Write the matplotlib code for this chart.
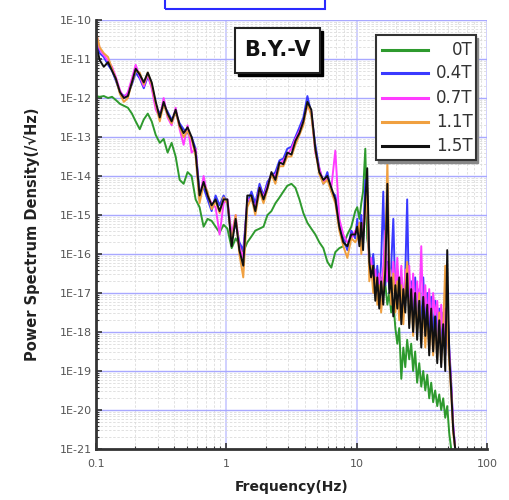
import numpy as np
import matplotlib
matplotlib.use('Agg')
import matplotlib.pyplot as plt
from matplotlib.patches import Rectangle
from matplotlib.lines import Line2D
from matplotlib.ticker import FuncFormatter, FixedLocator, NullFormatter

# frequency grid (Hz)
freq = [0.100, 0.107, 0.115, 0.124, 0.133, 0.142, 0.153, 0.164, 0.176, 0.189,
        0.202, 0.217, 0.233, 0.250, 0.268, 0.288, 0.309, 0.331, 0.355, 0.381,
        0.409, 0.439, 0.471, 0.505, 0.542, 0.582, 0.624, 0.670, 0.719, 0.772,
        0.828, 0.889, 0.954, 1.02, 1.10, 1.18, 1.26, 1.35, 1.45, 1.56,
        1.67, 1.80, 1.93, 2.07, 2.22, 2.38, 2.56, 2.74, 2.94, 3.16,
        3.39, 3.64, 3.90, 4.19, 4.49, 4.82, 5.17, 5.55, 5.96, 6.39,
        6.86, 7.36, 7.90, 8.48, 9.10, 9.76,
        10.1, 10.5, 10.85, 11.2, 11.65, 12.05, 12.5, 12.9, 13.4, 13.9,
        14.4, 14.9, 15.4, 16.0, 16.6, 17.2, 17.8, 18.4, 19.1, 19.8,
        20.5, 21.2, 22.0, 22.8, 23.6, 24.4, 25.3, 26.2, 27.1, 28.1,
        29.1, 30.2, 31.3, 32.4, 33.6, 34.8, 36.0, 37.3, 38.6, 40.0,
        41.5, 43.0, 44.5, 46.1, 47.8, 49.5, 51.3, 53.1, 55.0, 57.0]

# log10 of power spectrum density
psd_0T = [-11.95, -11.97, -11.95, -12.0, -11.97, -12.05, -12.15, -12.2, -12.25, -12.4,
          -12.6, -12.8, -12.55, -12.4, -12.6, -12.95, -13.15, -13.05, -13.4, -13.15,
          -13.5, -14.1, -14.2, -13.9, -14.0, -14.6, -14.8, -15.3, -15.1, -15.15,
          -15.3, -15.45, -15.25, -15.35, -15.85, -15.6, -15.75, -15.95, -15.7, -15.55,
          -15.4, -15.35, -15.3, -15.0, -14.9, -14.7, -14.55, -14.4, -14.25, -14.2,
          -14.3, -14.6, -14.95, -15.2, -15.35, -15.5, -15.7, -15.85, -16.2, -16.35,
          -15.95, -15.85, -15.8, -15.5, -15.3, -14.9,
          -14.8, -15.1, -14.7, -14.4, -13.3, -15.6, -16.0, -16.5, -16.1, -16.7,
          -16.4, -16.9, -16.6, -17.0, -16.8, -17.3, -17.0, -17.5, -17.2, -17.9,
          -18.3, -17.9, -19.2, -18.4, -18.9, -18.2, -18.7, -18.3, -19.0, -18.5,
          -19.3, -18.8, -19.4, -19.0, -19.5, -19.1, -19.7, -19.3, -19.8, -19.5,
          -19.9, -19.6, -20.0, -19.7, -20.2, -19.9, -20.6, -21.0, -21.2, -21.3]

psd_04T = [-10.5, -10.85, -10.95, -11.15, -11.3, -11.55, -11.85, -11.95, -11.9, -11.65,
           -11.35, -11.5, -11.75, -11.45, -11.7, -12.2, -12.4, -12.2, -12.35, -12.55,
           -12.4, -12.65, -12.8, -12.9, -13.0, -13.3, -14.4, -14.3, -14.6, -14.9,
           -14.5, -14.75, -14.5, -14.7, -15.6, -15.2, -15.7, -15.9, -14.7, -14.4,
           -14.7, -14.2, -14.5, -14.15, -14.0, -13.9, -13.6, -13.55, -13.3, -13.25,
           -13.0, -12.75, -12.5, -11.95, -12.4, -13.2, -13.8, -14.2, -13.9, -14.4,
           -14.5, -15.2, -15.6, -15.9, -15.4, -15.6,
           -15.1, -15.6, -15.0, -15.7, -14.1, -14.5, -16.0, -16.4, -16.0, -17.0,
           -16.3, -17.1, -16.2, -14.4, -16.8, -16.2, -16.9, -16.3, -15.1, -17.1,
           -16.4, -17.3, -16.6, -17.6, -16.5, -14.6, -17.5, -16.7, -17.7, -16.6,
           -17.8, -16.9, -17.9, -16.6, -17.9, -17.0, -18.2, -17.1, -18.1, -17.2,
           -18.3, -17.4, -18.4, -17.5, -18.6, -17.3, -18.4, -19.3, -20.4, -21.0]

psd_07T = [-10.3, -10.75, -10.9, -11.05, -11.2, -11.45, -11.8, -12.0, -11.85, -11.5,
           -11.15, -11.45, -11.7, -11.4, -11.75, -12.3, -12.5, -12.0, -12.5, -12.7,
           -12.25, -12.8, -13.2, -12.7, -13.4, -13.3, -14.6, -14.0, -14.5, -14.7,
           -14.8, -15.5, -14.7, -14.6, -15.5, -15.0, -15.8, -16.1, -14.6, -14.6,
           -14.8, -14.3, -14.55, -14.25, -13.95, -14.0, -13.7, -13.6, -13.45, -13.3,
           -13.05, -12.85, -12.6, -12.2, -12.35, -13.4, -13.8, -14.15, -14.05, -14.3,
           -13.35, -15.1, -15.5, -15.7, -15.6, -15.4,
           -15.4, -15.5, -15.9, -15.3, -14.8, -14.6, -16.4, -16.1, -16.8, -16.4,
           -17.1, -16.5, -17.0, -16.3, -15.4, -16.7, -16.4, -17.2, -16.2, -17.0,
           -16.1, -17.2, -16.3, -17.4, -16.4, -17.0, -16.3, -17.5, -16.5, -17.6,
           -16.7, -17.5, -15.8, -17.7, -16.8, -17.8, -16.9, -18.0, -17.0, -17.6,
           -17.2, -18.2, -17.3, -18.3, -17.4, -18.2, -18.5, -19.4, -20.4, -21.0]

psd_11T = [-10.3, -10.7, -10.85, -10.95, -11.25, -11.5, -11.9, -12.1, -12.0, -11.6,
           -11.3, -11.35, -11.65, -11.35, -11.65, -12.15, -12.6, -12.15, -12.45, -12.65,
           -12.35, -12.75, -13.0, -12.85, -13.05, -13.5, -14.7, -14.2, -14.4, -14.85,
           -14.65, -14.95, -14.55, -14.7, -15.7, -15.0, -16.0, -16.6, -14.8, -14.55,
           -15.0, -14.4, -14.7, -14.35, -13.95, -14.2, -13.75, -13.75, -13.5, -13.5,
           -13.2, -12.95, -12.7, -12.15, -12.45, -13.35, -13.95, -14.2, -14.1, -14.4,
           -14.7, -15.4, -15.8, -16.1, -15.6, -15.7,
           -15.6, -15.2, -16.0, -15.5, -15.0, -14.3, -16.7, -16.3, -17.0, -16.6,
           -17.3, -16.8, -17.5, -16.9, -16.0, -13.6, -16.3, -17.3, -16.5, -17.5,
           -16.7, -17.7, -16.8, -17.8, -16.9, -16.2, -17.8, -17.0, -18.1, -17.2,
           -18.0, -17.0, -18.3, -17.4, -18.4, -17.5, -18.5, -17.7, -18.6, -17.8,
           -18.7, -17.5, -18.8, -17.9, -16.3, -18.0, -18.8, -19.6, -20.6, -21.0]

psd_15T = [-10.6, -11.03, -11.2, -11.08, -11.3, -11.5, -11.85, -12.0, -11.95, -11.6,
           -11.25, -11.4, -11.6, -11.35, -11.6, -12.1, -12.5, -12.1, -12.4, -12.6,
           -12.3, -12.7, -12.9, -12.75, -13.0, -13.4, -14.5, -14.15, -14.5, -14.75,
           -14.6, -14.9, -14.6, -14.6, -15.8, -15.1, -15.9, -16.3, -14.5, -14.5,
           -14.9, -14.3, -14.6, -14.3, -13.9, -14.1, -13.65, -13.7, -13.4, -13.45,
           -13.1, -12.9, -12.6, -12.1, -12.3, -13.3, -13.9, -14.1, -14.0, -14.3,
           -14.6, -15.3, -15.7, -15.8, -15.5, -15.5,
           -15.3, -15.8, -15.2, -15.9, -14.6, -13.8, -16.2, -16.6, -16.3, -17.2,
           -16.6, -17.4, -16.7, -17.3, -16.4, -14.2, -17.0, -16.6, -17.6, -16.8,
           -17.4, -16.6, -17.8, -16.9, -17.5, -16.5, -17.9, -16.9, -18.0, -17.0,
           -18.2, -17.2, -18.4, -17.1, -18.1, -17.3, -18.6, -17.4, -18.5, -17.6,
           -18.8, -17.7, -18.9, -17.8, -19.0, -15.9, -18.6, -19.5, -20.5, -21.0]

labels = ['0T', '0.4T', '0.7T', '1.1T', '1.5T']
series = [psd_0T, psd_04T, psd_07T, psd_11T, psd_15T]
colors = ['#2e9a2e', '#3a3aff', '#ff3cff', '#f0a040', '#111111']

decades = list(range(-21, -9))
y_major = [10.0 ** d for d in decades]
y_minor = [m * 10.0 ** d for d in decades[:-1] for m in range(2, 10)]

fig = plt.figure(figsize=(5.1, 5.0), dpi=100)
ax = fig.add_axes([0.188, 0.102, 0.767, 0.858])

f = np.array(freq)
for vals, c in zip(series, colors):
    ax.plot(f, 10.0 ** np.array(vals), color=c, lw=1.4)

ax.set_xscale('log')
ax.set_yscale('log')
ax.set_xlim(0.1, 100)
ax.set_ylim(1e-21, 1e-10)

ax.yaxis.set_major_locator(FixedLocator(y_major))
ax.yaxis.set_minor_locator(FixedLocator(y_minor))
ax.yaxis.set_major_formatter(FuncFormatter(lambda v, p: '1E-%d' % round(-np.log10(v))))
ax.yaxis.set_minor_formatter(NullFormatter())
ax.xaxis.set_major_locator(FixedLocator([0.1, 1, 10, 100]))
ax.xaxis.set_major_formatter(FuncFormatter(lambda v, p: '%g' % v))
ax.xaxis.set_minor_formatter(NullFormatter())

ax.grid(True, which='minor', color='#dcdcdc', lw=0.6, ls=(0, (3, 2)))
ax.grid(True, which='major', axis='y', color='#a8a8ff', lw=1.0)
ax.grid(True, which='major', axis='x', color='#c8c8ff', lw=1.2)
ax.set_axisbelow(True)

for s in ['top', 'right']:
    ax.spines[s].set_visible(False)
for s in ['left', 'bottom']:
    ax.spines[s].set_linewidth(2.0)
    ax.spines[s].set_color('#333333')

ax.tick_params(which='both', direction='in', colors='#333333', labelcolor='#555555',
               labelsize=8, top=False, right=False)
ax.tick_params(which='major', length=4, width=1.2)
ax.tick_params(which='minor', length=2.5, width=0.8)
ax.tick_params(axis='y', pad=3)
ax.tick_params(axis='x', pad=7)

ax.set_xlabel('Frequency(Hz)', fontsize=10, fontweight='bold', color='#222222', labelpad=8)
ax.set_ylabel('Power Spectrum Density(/\u221aHz)', fontsize=10.5, fontweight='bold',
              color='#222222', labelpad=14)

# title box with shadow
fig.add_artist(Rectangle((0.467, 0.848), 0.167, 0.09, transform=fig.transFigure,
                         fc='black', ec='black', lw=1))
fig.add_artist(Rectangle((0.461, 0.854), 0.167, 0.09, transform=fig.transFigure,
                         fc='white', ec='#222222', lw=1.5))
fig.text(0.5445, 0.899, 'B.Y.-V', ha='center', va='center', fontsize=15,
         fontweight='bold', color='#111111')

# legend box with shadow
fig.add_artist(Rectangle((0.742, 0.674), 0.196, 0.25, transform=fig.transFigure,
                         fc='#888888', ec='#888888', lw=1))
fig.add_artist(Rectangle((0.737, 0.68), 0.196, 0.25, transform=fig.transFigure,
                         fc='white', ec='#333333', lw=1.5))
rows = [0.900, 0.854, 0.804, 0.756, 0.708]
for ry, c, lab in zip(rows, colors, labels):
    fig.add_artist(Line2D([0.749, 0.839], [ry, ry], transform=fig.transFigure,
                          color=c, lw=2.2))
    fig.text(0.927, ry, lab, ha='right', va='center', fontsize=12, color='#333333')

# blue outline box at top
fig.add_artist(Rectangle((0.3235, 0.982), 0.314, 0.05, transform=fig.transFigure,
                         fill=False, ec='#2a2aff', lw=1.5, clip_on=False))

fig.savefig('out.png', dpi=100)
